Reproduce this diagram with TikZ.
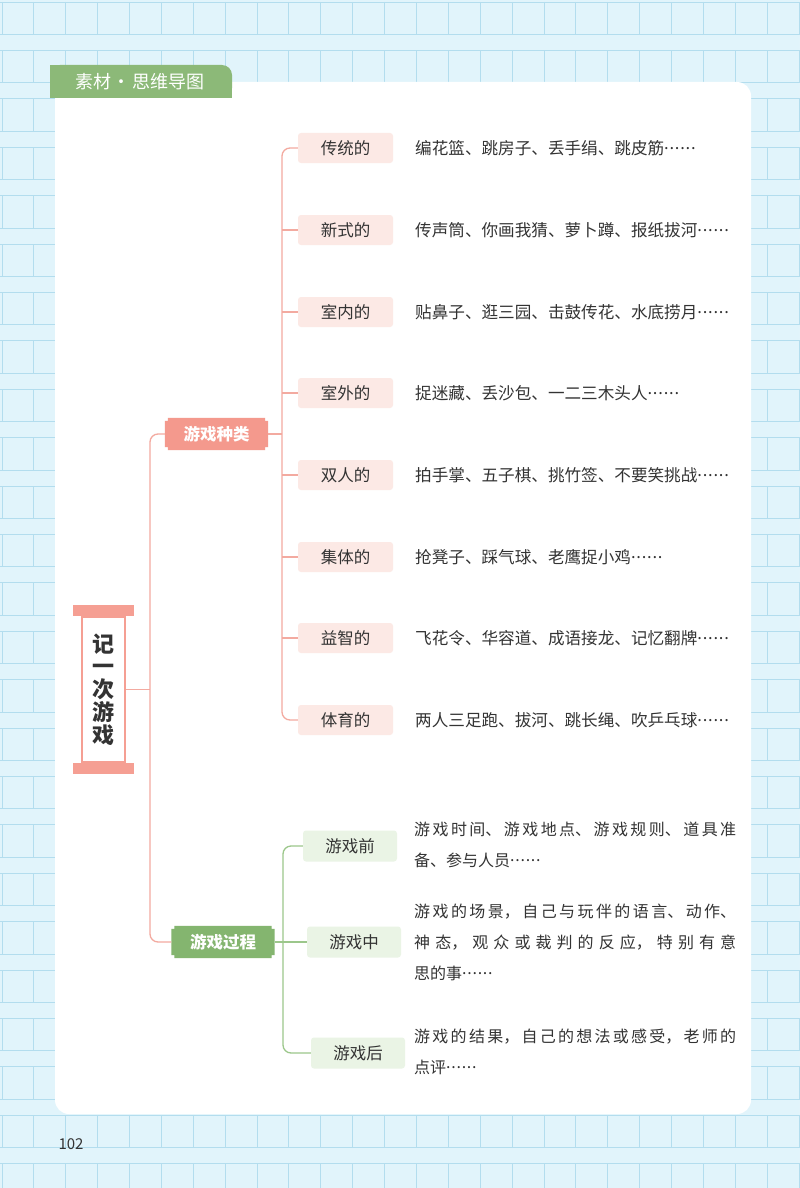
\documentclass[tikz,border=0pt]{standalone}
\usepackage{fontspec}
\setmainfont{Noto Sans CJK SC}
\XeTeXlinebreaklocale "zh"
\XeTeXlinebreakskip=0pt plus 8pt
\definecolor{bgblue}{HTML}{E1F4FB}
\definecolor{gridc}{HTML}{B3DDEE}
\definecolor{tabgreen}{HTML}{8CB978}
\definecolor{catpink}{HTML}{F4998D}
\definecolor{leafpink}{HTML}{FCE9E5}
\definecolor{linepink}{HTML}{F3AAA0}
\definecolor{catgreen}{HTML}{84B56F}
\definecolor{leafgreen}{HTML}{EAF4E5}
\definecolor{linegreen}{HTML}{9CC78B}
\definecolor{scrollpink}{HTML}{F59F93}
\definecolor{txt}{HTML}{333333}
\newcommand{\ldts}{\raisebox{0.3em}{\makebox[1.9em][s]{.\hfil.\hfil.\hfil.\hfil.\hfil.}}}
\pgfdeclarelayer{back}
\pgfdeclarelayer{bg}
\pgfsetlayers{back,bg,main}
\newcommand{\notchfill}[2]{%
\begin{pgfonlayer}{bg}
\fill[#2] ([xshift=3pt]#1.north west) -- ([xshift=-3pt]#1.north east) -- ([xshift=-3pt,yshift=-3pt]#1.north east) -- ([yshift=-3pt]#1.north east) -- ([yshift=3pt]#1.south east) -- ([xshift=-3pt,yshift=3pt]#1.south east) -- ([xshift=-3pt]#1.south east) -- ([xshift=3pt]#1.south west) -- ([xshift=3pt,yshift=3pt]#1.south west) -- ([yshift=3pt]#1.south west) -- ([yshift=-3pt]#1.north west) -- ([xshift=3pt,yshift=-3pt]#1.north west) -- cycle;
\end{pgfonlayer}}
\begin{document}
\begin{tikzpicture}[x=1pt,y=-1pt,
  gridline/.style={draw=gridc, line width=0.9pt},
  leafP/.style={fill=leafpink, rounded corners=3pt, minimum width=95pt, minimum height=30pt, inner sep=0pt, text=txt, font=\fontsize{16.5}{18}\selectfont},
  leafG/.style={fill=leafgreen, rounded corners=3pt, minimum width=94pt, minimum height=31pt, inner sep=0pt, text=txt, font=\fontsize{16.5}{18}\selectfont},
  item/.style={anchor=west, inner sep=0pt, text=txt, font=\fontsize{16.6}{18}\selectfont},
  para/.style={anchor=north west, inner sep=0pt, text width=322pt, align=justify, text=txt, font=\fontsize{16}{31}\selectfont},
  cat/.style={minimum width=103pt, minimum height=32pt, inner sep=0pt, text=white, font=\fontsize{16.5}{18}\selectfont\bfseries},
  lineP/.style={draw=linepink, line width=1.3pt},
  lineG/.style={draw=linegreen, line width=1.3pt}]
\useasboundingbox (0,0) rectangle (800,1188);
\begin{pgfonlayer}{back}
% background grid
\fill[bgblue] (0,0) rectangle (800,1188);
\foreach \k in {0,...,24}{
  \pgfmathsetmacro\yt{2+48.4*\k}
  \draw[gridline] (0,\yt) -- (800,\yt);
  \draw[gridline] (0,\yt+32.4) -- (800,\yt+32.4);
  \foreach \j in {0,...,25}{
    \draw[gridline] (2+31.88*\j,\yt) -- (2+31.88*\j,\yt+32.4);
  }
}
% card
\fill[white, rounded corners=14pt] (55,82) rectangle (751,1114);
% tab
\fill[tabgreen, rounded corners=10pt] (50,65) rectangle (232,98);
\fill[tabgreen] (50,65) rectangle (150,98);
\fill[tabgreen] (50,85) rectangle (232,98);
\end{pgfonlayer}
\node[text=white, font=\fontsize{18}{18}\selectfont, inner sep=0pt] (tab) at (140,82) {素材\kern2pt·\kern2pt思维导图};
% root
\node[draw=scrollpink, line width=2pt, fill=white, minimum width=43pt, minimum height=145pt, inner sep=0pt, align=center, text=txt, font=\fontsize{22}{22.75}\selectfont\bfseries] (root) at (103.5,689.5) {记\\一\\次\\游\\戏};
\fill[scrollpink] ([xshift=-8pt]root.north west) rectangle ([xshift=8pt,yshift=11pt]root.north east);
\fill[scrollpink] ([xshift=-8pt]root.south west) rectangle ([xshift=8pt,yshift=-11pt]root.south east);
% categories
\node[cat] (kind) at (216.5,434) {游戏种类};
\notchfill{kind}{catpink}
\node[cat] (proc) at (223,942) {游戏过程};
\notchfill{proc}{catgreen}
% pink leaves
\node[leafP] (p1) at (345.5,148) {传统的};
\node[leafP] (p2) at (345.5,230) {新式的};
\node[leafP] (p3) at (345.5,312) {室内的};
\node[leafP] (p4) at (345.5,393) {室外的};
\node[leafP] (p5) at (345.5,475) {双人的};
\node[leafP] (p6) at (345.5,557) {集体的};
\node[leafP] (p7) at (345.5,638) {益智的};
\node[leafP] (p8) at (345.5,720) {体育的};
\node[item] (t1) at (415,148) {编花篮、跳房子、丢手绢、跳皮筋\ldts};
\node[item] (t2) at (415,230) {传声筒、你画我猜、萝卜蹲、报纸拔河\ldts};
\node[item] (t3) at (415,312) {贴鼻子、逛三园、击鼓传花、水底捞月\ldts};
\node[item] (t4) at (415,393) {捉迷藏、丢沙包、一二三木头人\ldts};
\node[item] (t5) at (415,475) {拍手掌、五子棋、挑竹签、不要笑挑战\ldts};
\node[item] (t6) at (415,557) {抢凳子、踩气球、老鹰捉小鸡\ldts};
\node[item] (t7) at (415,638) {飞花令、华容道、成语接龙、记忆翻牌\ldts};
\node[item] (t8) at (415,720) {两人三足跑、拔河、跳长绳、吹乒乓球\ldts};
% green leaves
\node[leafG] (g1) at (350,846) {游戏前};
\node[leafG] (g2) at (354,942) {游戏中};
\node[leafG] (g3) at (358,1053) {游戏后};
\node[para] (d1) at (414,822) {游戏时间、游戏地点、游戏规则、道具准\linebreak 备、参与人员\ldts};
\node[para] (d2) at (414,904) {游戏的场景，自己与玩伴的语言、动作、\linebreak 神态，观众或裁判的反应，特别有意\linebreak 思的事\ldts};
\node[para] (d3) at (414,1029) {游戏的结果，自己的想法或感受，老师的\linebreak 点评\ldts};
% connectors
\coordinate (tk) at (150,689.5);
\coordinate (lt) at (282,434);
\coordinate (gt) at (283,942);
\draw[lineP] (root.east) -- (tk);
\draw[lineP, rounded corners=8pt] (kind.west) -- (kind.west -| tk) |- (proc.west);
\draw[lineP] (kind.east) -- (lt);
\draw[lineP, rounded corners=8pt] (p1.west) -- (p1.west -| lt) |- (p8.west);
\foreach \i in {2,...,7}{\draw[lineP] (p\i.west) -- (p\i.west -| lt);}
\draw[lineG] (proc.east) -- (g2.west);
\draw[lineG, rounded corners=8pt] (g1.west) -- (g1.west -| gt) |- (g3.west);
% page number
\node[text=txt, font=\fontsize{15}{15}\selectfont, inner sep=0pt] (pg) at (71,1144) {102};
\end{tikzpicture}
\end{document}
